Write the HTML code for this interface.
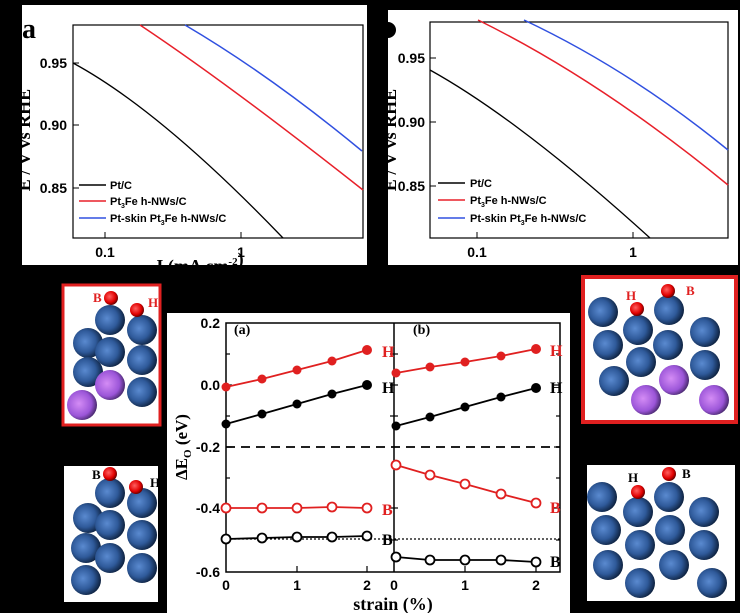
<!DOCTYPE html>
<html><head><style>
html,body{margin:0;padding:0;background:#000;}
svg{display:block;font-family:"Liberation Sans",Arial,sans-serif;}
.s{font-family:"Liberation Serif",serif;font-weight:bold;}
</style></head><body>
<svg width="740" height="613" viewBox="0 0 740 613" xmlns="http://www.w3.org/2000/svg">
<defs>
<radialGradient id="bl" cx="0.4" cy="0.45" r="0.6"><stop offset="0" stop-color="#5a8ad0"/><stop offset="0.6" stop-color="#2f5a9a"/><stop offset="1" stop-color="#0e2240"/></radialGradient>
<radialGradient id="pu" cx="0.4" cy="0.45" r="0.6"><stop offset="0" stop-color="#d48cf5"/><stop offset="0.7" stop-color="#9b55d8"/><stop offset="1" stop-color="#4a2a70"/></radialGradient>
<radialGradient id="rd" cx="0.4" cy="0.4" r="0.6"><stop offset="0" stop-color="#ff6060"/><stop offset="0.7" stop-color="#e00000"/><stop offset="1" stop-color="#700000"/></radialGradient>
</defs>
<rect width="740" height="613" fill="#000"/>

<!-- Top-left panel -->
<rect x="22" y="5" width="345" height="260" fill="#fff"/>
<rect x="73" y="25" width="290" height="213" fill="none" stroke="#000" stroke-width="1.2"/>
<g font-size="14" font-weight="bold" text-anchor="end">
<text x="67" y="68">0.95</text><text x="67" y="130">0.90</text><text x="67" y="193">0.85</text></g>
<g stroke="#000"><line x1="73" y1="63" x2="79" y2="63"/><line x1="73" y1="125" x2="79" y2="125"/><line x1="73" y1="188" x2="79" y2="188"/>
<line x1="105" y1="238" x2="105" y2="232"/><line x1="241" y1="238" x2="241" y2="232"/></g>
<g font-size="14" font-weight="bold" text-anchor="middle"><text x="105" y="257">0.1</text><text x="241" y="257">1</text></g>
<text x="200" y="272" class="s" font-size="18" text-anchor="middle">I (mA cm<tspan font-size="11" dy="-7">-2</tspan>)</text>
<text transform="translate(30,140) rotate(-90)" class="s" font-size="18" text-anchor="middle">E / V vs RHE</text>
<rect x="0" y="0" width="22" height="270" fill="#000"/>
<rect x="0" y="265" width="370" height="10" fill="#000"/>
<text x="22" y="38" class="s" font-size="28">a</text>
<path d="M73,63 Q160,110 283,238" fill="none" stroke="#000" stroke-width="1.3"/>
<path d="M140,25 Q230,85 363,190" fill="none" stroke="#e8202a" stroke-width="1.5"/>
<path d="M185,25 Q270,75 362,151" fill="none" stroke="#3050e0" stroke-width="1.5"/>
<g font-size="11" font-weight="bold">
<line x1="79" y1="185" x2="106" y2="185" stroke="#000" stroke-width="1.5"/><text x="110" y="189">Pt/C</text>
<line x1="79" y1="201" x2="106" y2="201" stroke="#e8202a" stroke-width="1.5"/><text x="110" y="205">Pt<tspan font-size="7" dy="3">3</tspan><tspan dy="-3">Fe h-NWs/C</tspan></text>
<line x1="79" y1="218" x2="106" y2="218" stroke="#3050e0" stroke-width="1.5"/><text x="110" y="222">Pt-skin Pt<tspan font-size="7" dy="3">3</tspan><tspan dy="-3">Fe h-NWs/C</tspan></text></g>

<!-- Top-right panel -->
<rect x="388" y="10" width="350" height="255" fill="#fff"/>
<text transform="translate(396,140) rotate(-90)" class="s" font-size="18" text-anchor="middle" fill="#000">E / V vs RHE</text>
<rect x="375" y="10" width="13" height="255" fill="#000"/>
<rect x="430" y="22" width="298" height="216" fill="none" stroke="#000" stroke-width="1.2"/>
<circle cx="388" cy="30" r="8" fill="#000"/>
<g font-size="14" font-weight="bold" text-anchor="end">
<text x="425" y="63">0.95</text><text x="425" y="127">0.90</text><text x="425" y="191">0.85</text></g>
<g stroke="#000"><line x1="430" y1="58" x2="436" y2="58"/><line x1="430" y1="122" x2="436" y2="122"/><line x1="430" y1="186" x2="436" y2="186"/>
<line x1="477" y1="238" x2="477" y2="232"/><line x1="633" y1="238" x2="633" y2="232"/></g>
<g font-size="14" font-weight="bold" text-anchor="middle"><text x="477" y="257">0.1</text><text x="633" y="257">1</text></g>
<path d="M430,70 Q520,120 650,238" fill="none" stroke="#000" stroke-width="1.3"/>
<path d="M478,20 Q600,80 728,185" fill="none" stroke="#e8202a" stroke-width="1.5"/>
<path d="M524,20 Q630,70 728,150" fill="none" stroke="#3050e0" stroke-width="1.5"/>
<g font-size="11" font-weight="bold">
<line x1="438" y1="183" x2="465" y2="183" stroke="#000" stroke-width="1.5"/><text x="470" y="187">Pt/C</text>
<line x1="438" y1="200" x2="465" y2="200" stroke="#e8202a" stroke-width="1.5"/><text x="470" y="204">Pt<tspan font-size="7" dy="3">3</tspan><tspan dy="-3">Fe h-NWs/C</tspan></text>
<line x1="438" y1="218" x2="465" y2="218" stroke="#3050e0" stroke-width="1.5"/><text x="470" y="222">Pt-skin Pt<tspan font-size="7" dy="3">3</tspan><tspan dy="-3">Fe h-NWs/C</tspan></text></g>

<!-- Left molecule boxes -->
<rect x="63" y="285" width="97" height="140" fill="#fff" stroke="#e02020" stroke-width="3"/>
<g>
<circle cx="88" cy="343" r="15" fill="url(#bl)"/><circle cx="88" cy="372" r="15" fill="url(#bl)"/><circle cx="82" cy="405" r="15" fill="url(#pu)"/>
<circle cx="110" cy="320" r="15" fill="url(#bl)"/><circle cx="110" cy="352" r="15" fill="url(#bl)"/><circle cx="110" cy="385" r="15" fill="url(#pu)"/>
<circle cx="142" cy="330" r="15" fill="url(#bl)"/><circle cx="142" cy="360" r="15" fill="url(#bl)"/><circle cx="142" cy="392" r="15" fill="url(#bl)"/>
<circle cx="111" cy="298" r="7" fill="url(#rd)"/><circle cx="137" cy="310" r="7" fill="url(#rd)"/></g>
<text x="93" y="302" class="s" font-size="13" fill="#e02020">B</text><text x="148" y="307" class="s" font-size="13" fill="#e02020">H</text>

<rect x="64" y="466" width="94" height="136" fill="#fff"/>
<g>
<circle cx="88" cy="518" r="15" fill="url(#bl)"/><circle cx="86" cy="548" r="15" fill="url(#bl)"/><circle cx="86" cy="580" r="15" fill="url(#bl)"/>
<circle cx="110" cy="493" r="15" fill="url(#bl)"/><circle cx="110" cy="525" r="15" fill="url(#bl)"/><circle cx="110" cy="558" r="15" fill="url(#bl)"/>
<circle cx="142" cy="503" r="15" fill="url(#bl)"/><circle cx="142" cy="535" r="15" fill="url(#bl)"/><circle cx="142" cy="568" r="15" fill="url(#bl)"/>
<circle cx="110" cy="474" r="7" fill="url(#rd)"/><circle cx="136" cy="487" r="7" fill="url(#rd)"/></g>
<text x="92" y="479" class="s" font-size="13">B</text><text x="150" y="487" class="s" font-size="13">H</text>

<!-- Right molecule boxes -->
<rect x="583" y="277" width="153" height="145" fill="#fff" stroke="#e02020" stroke-width="4"/>
<g>
<circle cx="603" cy="312" r="15" fill="url(#bl)"/><circle cx="638" cy="330" r="15" fill="url(#bl)"/><circle cx="669" cy="310" r="15" fill="url(#bl)"/>
<circle cx="608" cy="345" r="15" fill="url(#bl)"/><circle cx="668" cy="345" r="15" fill="url(#bl)"/><circle cx="705" cy="332" r="15" fill="url(#bl)"/>
<circle cx="641" cy="362" r="15" fill="url(#bl)"/><circle cx="705" cy="365" r="15" fill="url(#bl)"/>
<circle cx="614" cy="381" r="15" fill="url(#bl)"/><circle cx="674" cy="380" r="15" fill="url(#pu)"/>
<circle cx="646" cy="400" r="15" fill="url(#pu)"/><circle cx="714" cy="400" r="15" fill="url(#pu)"/>
<circle cx="637" cy="309" r="7" fill="url(#rd)"/><circle cx="668" cy="291" r="7" fill="url(#rd)"/></g>
<text x="626" y="300" class="s" font-size="13" fill="#e02020">H</text><text x="686" y="295" class="s" font-size="13" fill="#e02020">B</text>

<rect x="587" y="465" width="148" height="136" fill="#fff"/>
<g>
<circle cx="602" cy="497" r="15" fill="url(#bl)"/><circle cx="638" cy="512" r="15" fill="url(#bl)"/><circle cx="669" cy="497" r="15" fill="url(#bl)"/>
<circle cx="606" cy="530" r="15" fill="url(#bl)"/><circle cx="670" cy="530" r="15" fill="url(#bl)"/><circle cx="704" cy="512" r="15" fill="url(#bl)"/>
<circle cx="640" cy="545" r="15" fill="url(#bl)"/><circle cx="704" cy="545" r="15" fill="url(#bl)"/>
<circle cx="608" cy="565" r="15" fill="url(#bl)"/><circle cx="674" cy="565" r="15" fill="url(#bl)"/>
<circle cx="640" cy="583" r="15" fill="url(#bl)"/><circle cx="712" cy="583" r="15" fill="url(#bl)"/>
<circle cx="638" cy="492" r="7" fill="url(#rd)"/><circle cx="669" cy="474" r="7" fill="url(#rd)"/></g>
<text x="628" y="482" class="s" font-size="13">H</text><text x="682" y="478" class="s" font-size="13">B</text>

<!-- Bottom center plot -->
<rect x="167" y="313" width="403" height="300" fill="#fff"/>
<rect x="226" y="323" width="334" height="249" fill="none" stroke="#000" stroke-width="1.5"/>
<line x1="394" y1="323" x2="394" y2="572" stroke="#000" stroke-width="1.5"/>
<g font-size="14" font-weight="bold" text-anchor="end">
<text x="220" y="328">0.2</text><text x="220" y="390">0.0</text><text x="220" y="452">-0.2</text><text x="220" y="513">-0.4</text><text x="220" y="577">-0.6</text></g>
<g stroke="#000" stroke-width="1.2">
<line x1="226" y1="354" x2="230" y2="354"/><line x1="226" y1="385" x2="232" y2="385"/><line x1="226" y1="416" x2="230" y2="416"/><line x1="226" y1="447" x2="232" y2="447"/><line x1="226" y1="478" x2="230" y2="478"/><line x1="226" y1="508" x2="232" y2="508"/><line x1="226" y1="540" x2="230" y2="540"/>
<line x1="560" y1="354" x2="556" y2="354"/><line x1="560" y1="385" x2="554" y2="385"/><line x1="560" y1="416" x2="556" y2="416"/><line x1="560" y1="447" x2="554" y2="447"/><line x1="560" y1="478" x2="556" y2="478"/><line x1="560" y1="508" x2="554" y2="508"/><line x1="560" y1="540" x2="556" y2="540"/>
<line x1="394" y1="354" x2="398" y2="354"/><line x1="394" y1="385" x2="398" y2="385"/><line x1="394" y1="416" x2="398" y2="416"/><line x1="394" y1="508" x2="398" y2="508"/><line x1="394" y1="540" x2="398" y2="540"/>
<line x1="394" y1="354" x2="390" y2="354"/><line x1="394" y1="385" x2="390" y2="385"/><line x1="394" y1="416" x2="390" y2="416"/><line x1="394" y1="508" x2="390" y2="508"/><line x1="394" y1="540" x2="390" y2="540"/>
<line x1="297" y1="572" x2="297" y2="566"/><line x1="367" y1="572" x2="367" y2="566"/><line x1="465" y1="572" x2="465" y2="566"/><line x1="536" y1="572" x2="536" y2="566"/></g>
<g font-size="14" font-weight="bold" text-anchor="middle">
<text x="226" y="590">0</text><text x="297" y="590">1</text><text x="367" y="590">2</text><text x="394" y="590">0</text><text x="465" y="590">1</text><text x="536" y="590">2</text></g>
<text x="393" y="610" class="s" font-size="18" text-anchor="middle">strain (%)</text>
<text transform="translate(187,447) rotate(-90)" class="s" font-size="17" text-anchor="middle">ΔE<tspan font-size="11" dy="4">O</tspan><tspan dy="-4"> (eV)</tspan></text>
<text x="234" y="334" class="s" font-size="14">(a)</text><text x="413" y="334" class="s" font-size="14">(b)</text>
<line x1="226" y1="447" x2="560" y2="447" stroke="#000" stroke-width="1.8" stroke-dasharray="9,6"/>
<line x1="226" y1="539" x2="560" y2="539" stroke="#000" stroke-width="1.2" stroke-dasharray="2,2"/>
<g stroke-width="1.8">
<polyline points="226,387 262,379 297,370 332,361 367,350" fill="none" stroke="#e02020"/>
<g fill="#e02020"><circle cx="226" cy="387" r="4.5"/><circle cx="262" cy="379" r="4.5"/><circle cx="297" cy="370" r="4.5"/><circle cx="332" cy="361" r="4.5"/><circle cx="367" cy="350" r="5"/></g>
<polyline points="226,424 262,414 297,404 332,394 367,385" fill="none" stroke="#000"/>
<g fill="#000"><circle cx="226" cy="424" r="4.5"/><circle cx="262" cy="414" r="4.5"/><circle cx="297" cy="404" r="4.5"/><circle cx="332" cy="394" r="4.5"/><circle cx="367" cy="385" r="5"/></g>
<polyline points="226,508 262,508 297,508 332,507 367,508" fill="none" stroke="#e02020"/>
<g fill="#fff" stroke="#e02020"><circle cx="226" cy="508" r="4.5"/><circle cx="262" cy="508" r="4.5"/><circle cx="297" cy="508" r="4.5"/><circle cx="332" cy="507" r="4.5"/><circle cx="367" cy="508" r="4.5"/></g>
<polyline points="226,539 262,538 297,537 332,537 367,536" fill="none" stroke="#000"/>
<g fill="#fff" stroke="#000"><circle cx="226" cy="539" r="4.5"/><circle cx="262" cy="538" r="4.5"/><circle cx="297" cy="537" r="4.5"/><circle cx="332" cy="537" r="4.5"/><circle cx="367" cy="536" r="4.5"/></g>
<polyline points="396,373 430,367 465,362 501,356 536,349" fill="none" stroke="#e02020"/>
<g fill="#e02020"><circle cx="396" cy="373" r="4.5"/><circle cx="430" cy="367" r="4.5"/><circle cx="465" cy="362" r="4.5"/><circle cx="501" cy="356" r="4.5"/><circle cx="536" cy="349" r="5"/></g>
<polyline points="396,426 430,417 465,407 501,397 536,388" fill="none" stroke="#000"/>
<g fill="#000"><circle cx="396" cy="426" r="4.5"/><circle cx="430" cy="417" r="4.5"/><circle cx="465" cy="407" r="4.5"/><circle cx="501" cy="397" r="4.5"/><circle cx="536" cy="388" r="5"/></g>
<polyline points="396,465 430,475 465,484 501,494 536,503" fill="none" stroke="#e02020"/>
<g fill="#fff" stroke="#e02020"><circle cx="396" cy="465" r="4.5"/><circle cx="430" cy="475" r="4.5"/><circle cx="465" cy="484" r="4.5"/><circle cx="501" cy="494" r="4.5"/><circle cx="536" cy="503" r="4.5"/></g>
<polyline points="396,557 430,560 465,560 501,560 536,562" fill="none" stroke="#000"/>
<g fill="#fff" stroke="#000"><circle cx="396" cy="557" r="4.5"/><circle cx="430" cy="560" r="4.5"/><circle cx="465" cy="560" r="4.5"/><circle cx="501" cy="560" r="4.5"/><circle cx="536" cy="562" r="4.5"/></g>
</g>
<g class="s" font-size="16">
<text x="382" y="357" fill="#e02020">H</text><text x="382" y="393">H</text><text x="382" y="515" fill="#e02020">B</text><text x="382" y="545">B</text>
<text x="550" y="356" fill="#e02020">H</text><text x="550" y="393">H</text><text x="550" y="513" fill="#e02020">B</text><text x="550" y="567">B</text></g>
<rect x="570" y="265" width="10" height="348" fill="#000"/>
</svg>
</body></html>
